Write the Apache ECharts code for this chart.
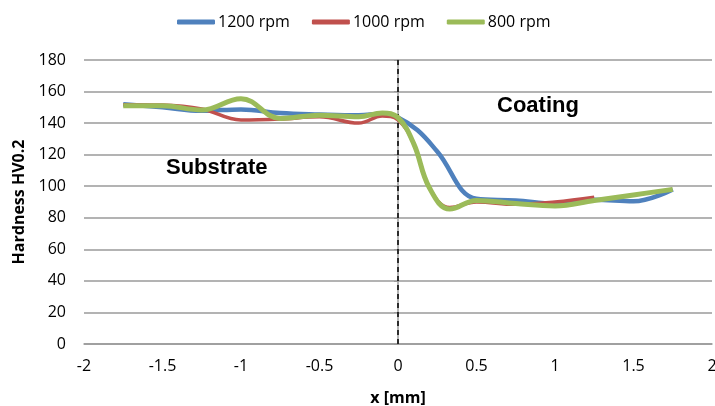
<!DOCTYPE html>
<html>
<head>
<meta charset="utf-8">
<script src="https://cdn.jsdelivr.net/npm/echarts@6/dist/echarts.min.js"></script>
<style>
  html, body { margin: 0; padding: 0; background: #fff; }
  #chart { width: 715px; height: 406px; }
</style>
</head>
<body>
<div id="chart"></div>
<script>
// values
const seriesNames = ['1200 rpm', '1000 rpm', '800 rpm'];
const x1200 = [-1.75, -1.5, -1.25, -1, -0.75, -0.5, -0.25, -0.1, 0, 0.125, 0.25, 0.5, 0.75, 1, 1.25, 1.5, 1.75];
const hv1200 = [152, 150, 147.8, 148.7, 146.4, 145.5, 145, 146, 143.5, 135.5, 122, 92, 91, 89, 91.5, 90.5, 98];
const x1000 = [-1.75, -1.5, -1.25, -1, -0.75, -0.5, -0.25, -0.1, 0, 0.1, 0.2, 0.33, 0.5, 0.75, 1, 1.25];
const hv1000 = [151.7, 151.5, 149, 142, 142.6, 144, 140, 144.5, 142, 127, 99, 86.5, 90, 88.5, 90, 93];
const x800 = [-1.75, -1.5, -1.25, -1, -0.75, -0.5, -0.25, -0.1, 0, 0.1, 0.2, 0.33, 0.5, 0.75, 1, 1.25, 1.5, 1.75];
const hv800 = [151, 151, 148.3, 155.5, 143, 145, 144, 146.4, 143.5, 127, 99, 85.5, 91, 89, 87.5, 91, 94.5, 98];
const colors = ['#4F81BD', '#C0504D', '#9BBB59'];
const widths = [4.5, 3.5, 5];

const font = 'Open Sans';

function pairs(xs, ys) {
    return xs.map((x, i) => [x, ys[i]]);
}

const chart = echarts.init(document.getElementById('chart'));
const data = [pairs(x1200, hv1200), pairs(x1000, hv1000), pairs(x800, hv800)];

const series = data.map((d, i) => ({
    name: seriesNames[i],
    type: 'line',
    data: d,
    smooth: 0.4,
    symbol: 'none',
    lineStyle: { color: colors[i], width: widths[i] },
    itemStyle: { color: colors[i] },
    z: 3 + i,
}));

// dashed boundary at x = 0
series[0].markLine = {
    silent: true,
    symbol: 'none',
    label: { show: false },
    lineStyle: { color: '#000', type: [5, 4], width: 1.5 },
    data: [{ xAxis: 0 }],
};

chart.setOption({
    animation: false,
    legend: {
        top: 9,
        left: 172,
        icon: 'roundRect',
        itemWidth: 38,
        itemHeight: 5,
        itemGap: 22,
        textStyle: { fontFamily: font, fontSize: 16, color: '#000', padding: [0, 0, 0, -2] },
        data: seriesNames,
    },
    grid: { left: 84, right: 3, top: 60, bottom: 62, outerBoundsMode: 'none' },
    xAxis: {
        type: 'value',
        min: -2,
        max: 2,
        interval: 0.5,
        name: 'x [mm]',
        nameLocation: 'middle',
        nameGap: 46,
        nameTextStyle: { fontFamily: font, fontSize: 16, fontWeight: 'bold', color: '#000' },
        axisLine: { show: true, onZero: false, lineStyle: { color: '#9a9a9a', width: 1.5 } },
        axisTick: { show: false },
        splitLine: { show: false },
        axisLabel: { fontFamily: font, fontSize: 16, color: '#000', margin: 14 },
    },
    yAxis: {
        type: 'value',
        min: 0,
        max: 180,
        interval: 20,
        name: 'Hardness HV0.2',
        nameLocation: 'middle',
        nameGap: 49,
        nameTextStyle: { fontFamily: font, fontSize: 16, fontWeight: 'bold', color: '#000' },
        axisLine: { show: true, lineStyle: { color: '#9a9a9a', width: 1.5 } },
        axisTick: { show: true, length: 4, lineStyle: { color: '#9a9a9a' } },
        splitLine: { lineStyle: { color: '#9a9a9a', width: 1.5 } },
        axisLabel: { fontFamily: font, fontSize: 16, color: '#000', margin: 18 },
    },
    graphic: [
        {
            type: 'text', left: 166, top: 157,
            style: { text: 'Substrate', font: 'bold 22px "Liberation Sans"', fill: '#000' },
        },
        {
            type: 'text', left: 497, top: 95,
            style: { text: 'Coating', font: 'bold 22px "Liberation Sans"', fill: '#000' },
        },
    ],
    series: series,
});
</script>
</body>
</html>
